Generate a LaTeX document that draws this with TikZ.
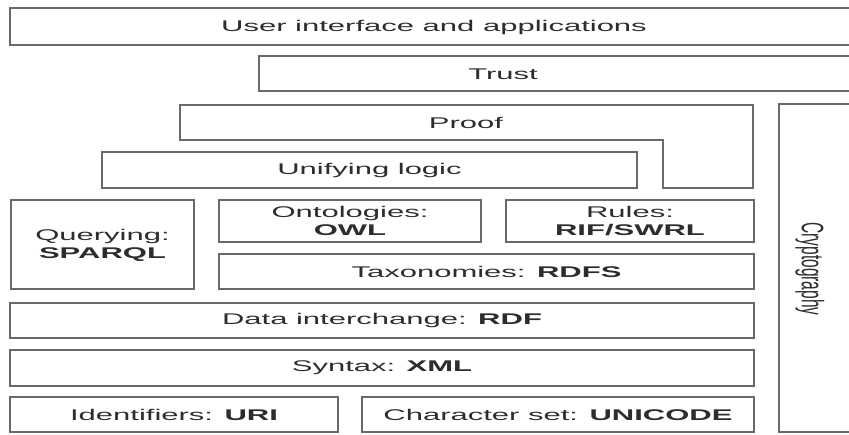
\documentclass[tikz,border=0pt]{standalone}
\usepackage{fontspec}
\setmainfont{Liberation Sans}
\definecolor{linec}{RGB}{105,105,105}
\definecolor{textc}{RGB}{45,45,45}
\begin{document}
\begin{tikzpicture}[x=1pt,y=-1pt]
\useasboundingbox (0,0) rectangle (849,435);
\clip (0,0) rectangle (849,435);
\fill[white] (0,0) rectangle (849,435);
\begin{scope}[transform canvas={xscale=2}, x=0.5pt, y=-1pt,
  boxline/.style={draw=linec, line width=1.3pt},
  lbl/.style={text=textc, font=\fontsize{15.5}{18}\selectfont, align=center, inner sep=0pt}]
  % boxes
  \draw[boxline] (10,8) rectangle (880,45);
  \draw[boxline] (259,56) rectangle (880,91);
  \draw[boxline] (180,105) -- (753,105) -- (753,188) -- (663,188) -- (663,140) -- (180,140) -- cycle;
  \draw[boxline] (102,152) rectangle (637,188);
  \draw[boxline] (779,104) rectangle (880,432);
  \draw[boxline] (11,200) rectangle (194,289);
  \draw[boxline] (219,200) rectangle (481,242);
  \draw[boxline] (506,200) rectangle (754,242);
  \draw[boxline] (219,254) rectangle (754,289);
  \draw[boxline] (10,303) rectangle (754,338);
  \draw[boxline] (10,350) rectangle (754,386);
  \draw[boxline] (10,397) rectangle (338,432);
  \draw[boxline] (362,397) rectangle (754,432);
  % labels
  \node[lbl] (ui) at (434,27) {User interface and applications};
  \node[lbl] (trust) at (503,74) {Trust};
  \node[lbl] (proof) at (466,123) {Proof};
  \node[lbl] (logic) at (369.5,170) {Unifying logic};
  \node[lbl, rotate=-90] (crypto) at (810,269) {Cryptography};
  \node[lbl] (query) at (102.5,245) {Querying:\\\textbf{SPARQL}};
  \node[lbl] (onto) at (350,221) {Ontologies:\\\textbf{OWL}};
  \node[lbl] (rules) at (630,221) {Rules:\\\textbf{RIF/SWRL}};
  \node[lbl] (tax) at (486.5,271.5) {Taxonomies: \textbf{RDFS}};
  \node[lbl] (rdf) at (382,320.5) {Data interchange: \textbf{RDF}};
  \node[lbl] (xml) at (382,368) {Syntax: \textbf{XML}};
  \node[lbl] (uri) at (174,414.5) {Identifiers: \textbf{URI}};
  \node[lbl] (uni) at (558,414.5) {Character set: \textbf{UNICODE}};
\end{scope}
\end{tikzpicture}
\end{document}
